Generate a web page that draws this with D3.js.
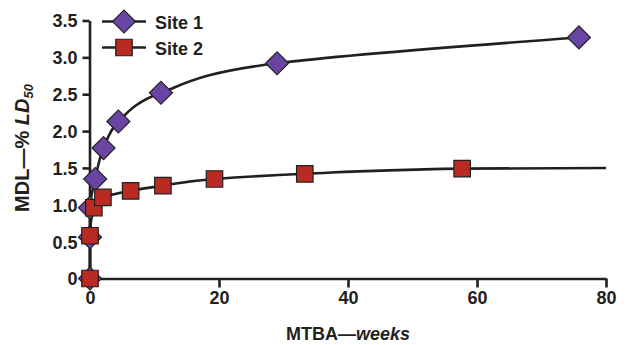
<!DOCTYPE html>
<html>
<head>
<meta charset="utf-8">
<script src="https://cdn.jsdelivr.net/npm/d3@7/dist/d3.min.js"></script>
<style>
  html, body { margin: 0; padding: 0; background: #fff; }
  svg { display: block; }
  text { font-family: "Liberation Sans", Arial, Helvetica, sans-serif; font-weight: bold; fill: #231f20; }
</style>
</head>
<body>
<svg id="chart" width="627" height="345"></svg>
<script>
// Site 1: MTBA (weeks) vs MDL (% LD50)
const site1Weeks = [0, 0, 0, 0.8, 2.1, 4.4, 11.0, 29.0, 75.8];
const site1Mdl   = [0, 0.56, 0.96, 1.35, 1.77, 2.13, 2.52, 2.92, 3.27];

// Site 2
const site2Weeks = [0, 0, 0.6, 2.0, 6.3, 11.3, 19.3, 33.3, 57.7];
const site2Mdl   = [0, 0.58, 0.96, 1.10, 1.19, 1.26, 1.35, 1.42, 1.49];
// fitted trend for Site 2 continues to the end of the axis
const site2TrendEndWeeks = [80];
const site2TrendEndMdl   = [1.50];

const xTicks = [0, 20, 40, 60, 80];
const yTicks = [0, 0.5, 1.0, 1.5, 2.0, 2.5, 3.0, 3.5];
const seriesNames = ["Site 1", "Site 2"];

const ink = "#231f20";
const purple = "#6a44a3";
const red = "#b92b22";

const svg = d3.select("#chart");

const x = d3.scaleLinear().domain([0, 80]).range([90, 606]);
const y = d3.scaleLinear().domain([0, 3.5]).range([278.5, 20.5]);

const fmtY = v => v === 0 ? "0" : d3.format(".1f")(v);

// axes
const yAxis = svg.append("g")
  .attr("transform", "translate(89.5,0)")
  .call(d3.axisLeft(y).tickValues(yTicks).tickFormat(fmtY).tickSize(7).tickSizeOuter(0).tickPadding(5));
const xAxis = svg.append("g")
  .attr("transform", "translate(0,278.5)")
  .call(d3.axisBottom(x).tickValues(xTicks).tickFormat(d3.format("d")).tickSize(9).tickSizeOuter(0).tickPadding(4));

[yAxis, xAxis].forEach(g => {
  g.select(".domain").attr("stroke", ink).attr("stroke-width", 2.6);
  g.selectAll(".tick line").attr("stroke", ink).attr("stroke-width", 2.6);
  g.selectAll(".tick text").attr("fill", ink)
    .style("font-size", "18px").style("font-weight", "bold")
    .style("font-family", "'Liberation Sans', Arial, sans-serif");
});
yAxis.selectAll(".tick text").attr("dy", "0.36em");

// axis titles
svg.append("text")
  .attr("x", 348).attr("y", 340)
  .attr("text-anchor", "middle")
  .style("font-size", "18px")
  .call(t => {
    t.append("tspan").text("MTBA\u2014");
    t.append("tspan").attr("font-style", "italic").text("weeks");
  });

svg.append("text")
  .attr("transform", "translate(29,148) rotate(-90)")
  .attr("text-anchor", "middle")
  .style("font-size", "20px")
  .call(t => {
    t.append("tspan").text("MDL\u2014% ");
    t.append("tspan").attr("font-style", "italic").text("LD");
    t.append("tspan").attr("font-style", "italic").attr("dy", "0.3em").style("font-size", "13px").text("50");
  });

// curves
const s1 = site1Weeks.map((w, i) => ({ w, v: site1Mdl[i] }));
const s2 = site2Weeks.map((w, i) => ({ w, v: site2Mdl[i] }));
const s2Trend = s2.concat(site2TrendEndWeeks.map((w, i) => ({ w, v: site2TrendEndMdl[i] })));

const line = d3.line().x(d => x(d.w)).y(d => y(d.v)).curve(d3.curveMonotoneY);

svg.append("path").datum(s1).attr("d", line)
  .attr("fill", "none").attr("stroke", ink).attr("stroke-width", 2.6);
svg.append("path").datum(s2Trend).attr("d", line)
  .attr("fill", "none").attr("stroke", ink).attr("stroke-width", 2.6);

// markers: diamonds are squares turned 45 degrees
const diamond = d3.symbol().type(d3.symbolSquare).size(265);
const square = d3.symbol().type(d3.symbolSquare).size(272);

svg.append("g").selectAll("path").data(s1).join("path")
  .attr("d", diamond)
  .attr("transform", d => `translate(${x(d.w)},${y(d.v)}) rotate(45)`)
  .attr("fill", purple).attr("stroke", ink).attr("stroke-width", 1.2);

svg.append("g").selectAll("path").data(s2).join("path")
  .attr("d", square)
  .attr("transform", d => `translate(${x(d.w)},${y(d.v)})`)
  .attr("fill", red).attr("stroke", ink).attr("stroke-width", 1.2);

// legend
const legend = svg.append("g");
const legendRows = [
  { name: seriesNames[0], sym: diamond, rot: 45, fill: purple, cy: 21.5 },
  { name: seriesNames[1], sym: square, rot: 0, fill: red, cy: 47.5 }
];
legendRows.forEach(r => {
  legend.append("line").attr("x1", 102).attr("x2", 146).attr("y1", r.cy).attr("y2", r.cy)
    .attr("stroke", ink).attr("stroke-width", 2.6);
  legend.append("path").attr("d", r.sym)
    .attr("transform", `translate(124,${r.cy}) rotate(${r.rot})`)
    .attr("fill", r.fill).attr("stroke", ink).attr("stroke-width", 1.2);
  legend.append("text").attr("x", 155).attr("y", r.cy + 7).style("font-size", "18px").text(r.name);
});
</script>
</body>
</html>
